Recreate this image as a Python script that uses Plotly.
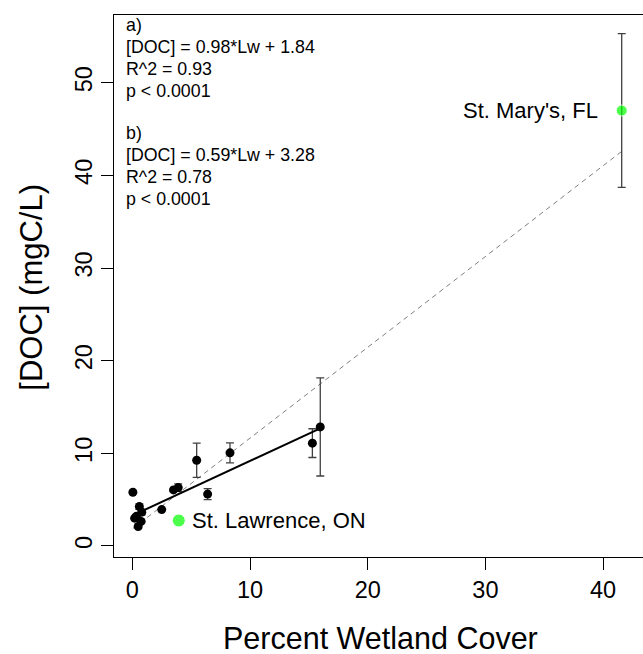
import plotly.graph_objects as go

# ---- data ----
wetland = [0.05, 0.6, 0.2, 0.5, 0.8, 0.75, 0.35, 2.5, 3.5, 3.9, 5.47, 6.4, 8.3, 15.3, 15.97]
doc = [5.8, 4.25, 3.0, 2.1, 3.65, 2.65, 3.2, 3.93, 6.05, 6.3, 9.25, 5.6, 10.05, 11.1, 12.85]
doc_err = [0, 0.3, 0, 0, 0.3, 0, 0, 0, 0, 0.4, 1.85, 0.6, 1.08, 1.55, 5.3]

highlight_names = ["St. Lawrence, ON", "St. Mary's, FL"]
highlight_x = [3.95, 41.58]
highlight_y = [2.75, 47.0]
highlight_err = [0, 8.3]
highlight_size = [13, 11]

# regression fits (a: all sites, b: without outlier sites)
fit_a = {"slope": 0.98, "intercept": 1.84, "r2": 0.93}
fit_b = {"slope": 0.59, "intercept": 3.28, "r2": 0.78}

x_ticks = [0, 10, 20, 30, 40]
y_ticks = [0, 10, 20, 30, 40, 50]

FONT = "Liberation Sans, Arial, sans-serif"

fig = go.Figure()

# dashed fit a over all sites
xa = [min(wetland + highlight_x), max(wetland + highlight_x)]
fig.add_trace(go.Scatter(
    x=xa, y=[fit_a["slope"] * v + fit_a["intercept"] for v in xa],
    mode="lines", line=dict(color="#808080", width=1, dash="5px,4px"),
    hoverinfo="skip", showlegend=False))

# error bars only for sites that have them
all_x = wetland + highlight_x
all_y = doc + highlight_y
all_e = doc_err + highlight_err
ex = [x for x, e in zip(all_x, all_e) if e > 0]
ey = [y for y, e in zip(all_y, all_e) if e > 0]
ee = [e for e in all_e if e > 0]
fig.add_trace(go.Scatter(
    x=ex, y=ey, mode="markers", marker=dict(size=1, opacity=0),
    error_y=dict(type="data", array=ee, visible=True,
                 color="#404040", thickness=1.3, width=4),
    hoverinfo="skip", showlegend=False))

# black points
fig.add_trace(go.Scatter(
    x=wetland, y=doc, mode="markers",
    marker=dict(color="black", size=9), showlegend=False))

# solid fit b over black sites
xb = [min(wetland), max(wetland)]
fig.add_trace(go.Scatter(
    x=xb, y=[fit_b["slope"] * v + fit_b["intercept"] for v in xb],
    mode="lines", line=dict(color="black", width=2),
    hoverinfo="skip", showlegend=False))

# highlighted sites
fig.add_trace(go.Scatter(
    x=highlight_x, y=highlight_y, mode="markers",
    marker=dict(color="#00ff00", size=highlight_size), showlegend=False))

# site labels
fig.add_annotation(x=highlight_x[0], y=highlight_y[0], text=highlight_names[0],
                   xanchor="left", yanchor="middle", xshift=11, showarrow=False,
                   font=dict(family=FONT, size=22, color="black"))
fig.add_annotation(x=highlight_x[1], y=highlight_y[1], text=highlight_names[1],
                   xanchor="right", yanchor="middle", xshift=-22, showarrow=False,
                   font=dict(family=FONT, size=22, color="black"))

# regression text
x0p, y0p, H = 114.0, 556.7, 541.7
lines = [
    ("a)", 25),
    (f"[DOC] = {fit_a['slope']}*Lw + {fit_a['intercept']}", 47),
    (f"R^2 = {fit_a['r2']}", 69),
    ("p < 0.0001", 91),
    ("b)", 133),
    (f"[DOC] = {fit_b['slope']}*Lw + {fit_b['intercept']}", 155),
    (f"R^2 = {fit_b['r2']}", 177),
    ("p < 0.0001", 199),
]
for txt, py in lines:
    fig.add_annotation(xref="paper", yref="paper", x=(124.0 - x0p) / 529.0,
                       y=(y0p - py) / H, text=txt, xanchor="left", yanchor="middle",
                       showarrow=False, font=dict(family=FONT, size=17.8, color="black"))

# axis titles
fig.add_annotation(xref="paper", yref="paper", x=(380.8 - x0p) / 529.0,
                   y=(y0p - 637.5) / H, text="Percent Wetland Cover", showarrow=False,
                   xanchor="center", yanchor="middle",
                   font=dict(family=FONT, size=30.5, color="black"))
fig.add_annotation(xref="paper", yref="paper", x=(32 - x0p) / 529.0,
                   y=(y0p - 287.5) / H, text="[DOC] (mgC/L)", showarrow=False,
                   textangle=-90, xanchor="center", yanchor="middle",
                   font=dict(family=FONT, size=31, color="black"))

fig.update_layout(
    width=643, height=654,
    margin=dict(l=114, r=0, t=15, b=97.3),
    plot_bgcolor="white", paper_bgcolor="white",
    font=dict(family=FONT, color="black"),
    xaxis=dict(range=[-1.555, 43.39], tickvals=x_ticks, ticktext=[str(v) for v in x_ticks],
               showgrid=False, zeroline=False, showline=True, mirror=True,
               linecolor="black", linewidth=1, ticks="outside", ticklen=12,
               tickcolor="black", tickwidth=1, tickfont=dict(size=23.5),
               ticklabelstandoff=0),
    yaxis=dict(range=[-1.19, 57.31], tickvals=y_ticks, ticktext=[str(v) for v in y_ticks],
               showgrid=False, zeroline=False, showline=True, mirror=False,
               linecolor="black", linewidth=1, ticks="outside", ticklen=12,
               tickcolor="black", tickwidth=1, tickfont=dict(size=23.5),
               tickangle=-90, ticklabelstandoff=0),
)

fig.write_html("out.html", config={"displayModeBar": False},
               post_script="document.body.style.margin='0px';document.body.style.padding='0px';")
